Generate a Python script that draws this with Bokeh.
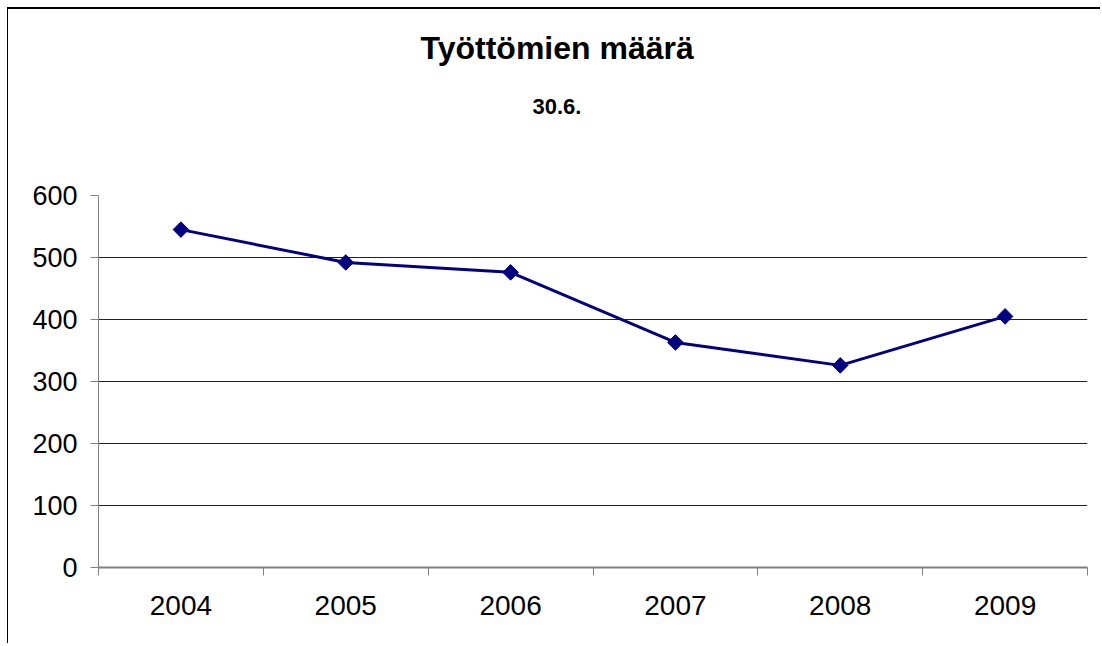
import numpy as np
from bokeh.plotting import figure
from bokeh.models import FixedTicker, Range1d, ColumnDataSource, Title
from bokeh.embed import file_html
from bokeh.resources import INLINE

# ---- data ----
years = ["2004", "2005", "2006", "2007", "2008", "2009"]
values = [545, 492, 476, 363, 326, 405]
y_ticks = [0, 100, 200, 300, 400, 500, 600]
title_text = "Työttömien määrä"
subtitle_text = "30.6."

FONT = "Liberation Sans"
W, H = 1093, 636
n = len(years)
xs = list(np.arange(n) + 0.5)

p = figure(width=W, height=H, output_backend="svg", toolbar_location=None,
           x_range=Range1d(0, n), y_range=Range1d(0, 600),
           min_border_left=90, min_border_right=14, min_border_top=186,
           min_border_bottom=78)
p.styles = {"border-left": "1px solid black", "border-top": "2px solid black",
            "margin-left": "7px", "margin-top": "7px"}
p.outline_line_color = None
p.background_fill_color = "white"
p.border_fill_color = "white"

src = ColumnDataSource(dict(x=xs, y=values))
p.line("x", "y", source=src, line_color="#000080", line_width=3)
p.scatter("x", "y", source=src, marker="square", angle=np.pi / 4, size=11,
          fill_color="#000080", line_color="#000080")

# x axis: labels at category centres, ticks at boundaries
xa = p.xaxis[0]
xa.ticker = FixedTicker(ticks=xs, minor_ticks=list(range(n + 1)))
xa.major_label_overrides = {float(x): yr for x, yr in zip(xs, years)}
xa.major_tick_out = 0
xa.major_tick_in = 0
xa.minor_tick_out = 8
xa.minor_tick_in = 0
xa.minor_tick_line_color = "#808080"
xa.axis_line_color = "#808080"
xa.axis_line_width = 2
xa.major_label_text_font = FONT
xa.major_label_text_font_size = "28px"
xa.major_label_text_color = "black"
xa.major_label_standoff = 20

ya = p.yaxis[0]
ya.ticker = FixedTicker(ticks=y_ticks)
ya.minor_tick_out = 0
ya.minor_tick_in = 0
ya.major_tick_out = 8
ya.major_tick_in = 0
ya.major_tick_line_color = "#808080"
ya.axis_line_color = "#808080"
ya.axis_line_width = 1
ya.major_label_text_font = FONT
ya.major_label_text_font_size = "27px"
ya.major_label_text_color = "black"
ya.major_label_standoff = 13

p.xgrid.visible = False
p.ygrid.ticker = FixedTicker(ticks=y_ticks[1:])
p.ygrid.grid_line_color = "#222222"
p.ygrid.grid_line_width = 1

# spacer between subtitle and plot area
p.add_layout(Title(text=" ", text_font_size="10px", standoff=51), "above")
p.add_layout(Title(text=subtitle_text, align="left", offset=434, standoff=35,
                   text_font=FONT, text_font_style="bold", text_font_size="22px",
                   text_color="black"), "above")
p.add_layout(Title(text=title_text, align="left", offset=322, standoff=28,
                   text_font=FONT, text_font_style="bold", text_font_size="32px",
                   text_color="black"), "above")

open("out.html", "w").write(file_html(p, INLINE))
